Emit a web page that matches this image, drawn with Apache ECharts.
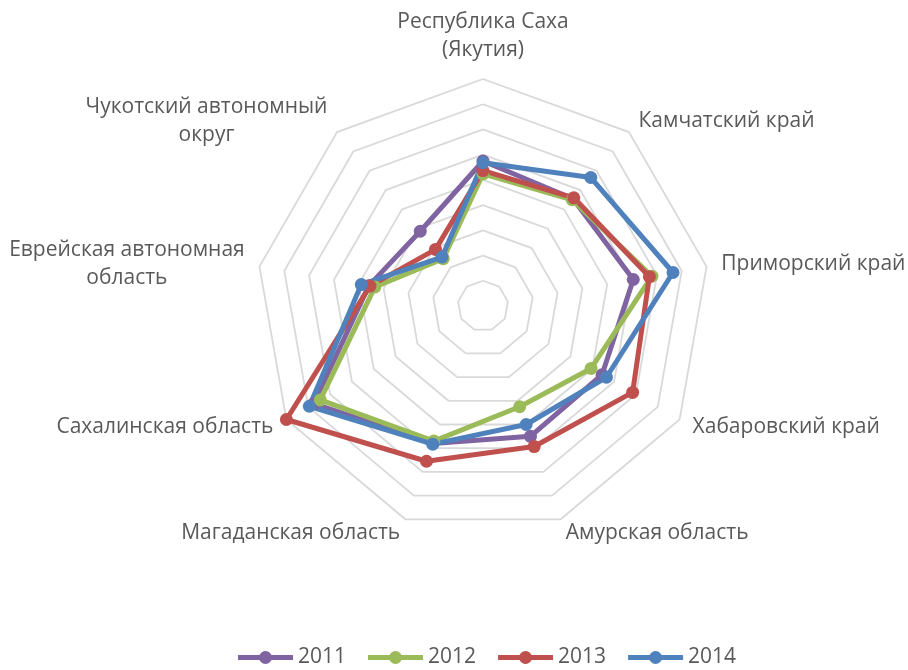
<!DOCTYPE html>
<html>
<head>
<meta charset="utf-8">
<script src="https://cdn.jsdelivr.net/npm/echarts@6/dist/echarts.min.js"></script>
<style>
html,body{margin:0;padding:0;background:#fff;}
#chart{width:908px;height:670px;}
</style>
</head>
<body>
<div id="chart"></div>
<script>
// Categories in clockwise order starting at the top
var categories = [
  'Республика Саха\n(Якутия)',
  'Камчатский край',
  'Приморский край',
  'Хабаровский край',
  'Амурская область',
  'Магаданская область',
  'Сахалинская область',
  'Еврейская автономная\nобласть',
  'Чукотский автономный\nокруг'
];
var years = ['2011', '2012', '2013', '2014'];
var values2011 = [5.75, 5.55, 6.05, 5.45, 5.50, 5.80, 7.75, 4.60, 3.87];
var values2012 = [5.24, 5.50, 6.80, 4.95, 4.25, 5.70, 7.45, 4.35, 2.45];
var values2013 = [5.37, 5.60, 6.70, 6.85, 5.93, 6.55, 9.00, 4.55, 2.93];
var values2014 = [5.68, 6.65, 7.65, 5.65, 5.00, 5.83, 7.95, 4.90, 2.53];
var axisMax = 9;

var colors = ['#8064A2', '#9BBB59', '#C0504D', '#4F81BD'];
var seriesValues = [values2011, values2012, values2013, values2014];

// ECharts places indicators counter-clockwise; reorder so they appear clockwise
var order = [0, 8, 7, 6, 5, 4, 3, 2, 1];
function reorder(arr) { return order.map(function (i) { return arr[i]; }); }

var chart = echarts.init(document.getElementById('chart'));
var FONT = 'Open Sans';
var legendIcon = 'path://M0,3.5h55v5H0z M21,6a6.5,6.5 0 1,1 13,0a6.5,6.5 0 1,1 -13,0z';

chart.setOption({
  animation: false,
  backgroundColor: '#fff',
  color: colors,
  legend: {
    data: years.map(function (y) { return { name: y, icon: legendIcon }; }),
    left: 238,
    top: 647,
    padding: 0,
    itemWidth: 55,
    itemHeight: 13,
    itemGap: 22,
    textStyle: { fontFamily: FONT, fontSize: 21, color: '#595959' }
  },
  radar: {
    center: [483, 306],
    radius: 227,
    shape: 'polygon',
    splitNumber: 9,
    nameGap: 15,
    indicator: reorder(categories).map(function (c) { return { name: c, min: 0, max: axisMax }; }),
    axisName: {
      color: '#595959',
      fontFamily: FONT,
      fontSize: 21,
      formatter: function (name) {
        return name.split('\n').map(function (l) { return '{c|' + l + '}'; }).join('\n');
      },
      rich: {
        c: { align: 'center', color: '#595959', fontFamily: FONT, fontSize: 21, lineHeight: 28 }
      }
    },
    axisLine: { show: false },
    splitArea: { show: false },
    splitLine: { lineStyle: { color: '#D9D9D9', width: 1.8 } }
  },
  series: [{
    type: 'radar',
    symbol: 'circle',
    symbolSize: 13,
    lineStyle: { width: 5 },
    data: years.map(function (y, k) {
      return {
        name: y,
        value: reorder(seriesValues[k]),
        itemStyle: { color: colors[k] },
        lineStyle: { color: colors[k], width: 5 }
      };
    })
  }]
});
</script>
</body>
</html>
